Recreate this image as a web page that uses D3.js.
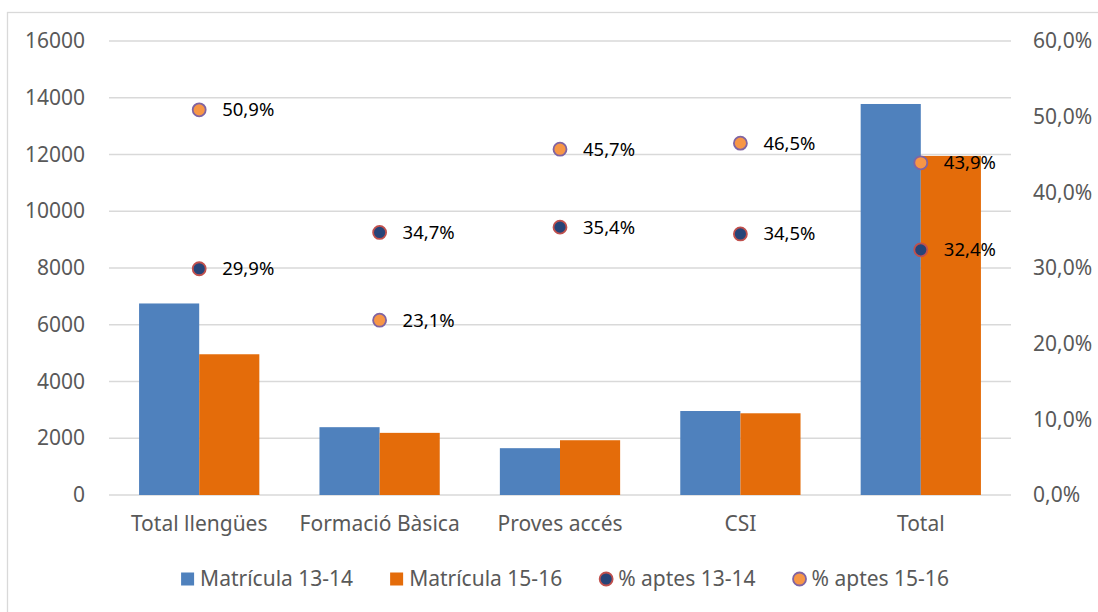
<!DOCTYPE html>
<html lang="ca">
    <head>
        <meta charset="utf-8">
        <title>Matrícula i % aptes</title>
        <script src="https://d3js.org/d3.v7.min.js"></script>
        <style type="text/css">
            body { margin: 0; background: #fff; }
            text { font-family: "Noto Sans", sans-serif; fill: #595959; }
            .grid line { stroke: #d9d9d9; stroke-width: 1.3px; }
            .axis path, .axis line { display: none; }
            .axis text { font-size: 21px; fill: #595959; }
            .lbl { font-size: 18.5px; fill: #000; }
            .legend text { font-size: 21px; }
        </style>
    </head>
    <body>
        <script type="text/javascript">

            const w = 1098;
            const h = 612;

            const categories = ["Total llengües", "Formació Bàsica", "Proves accés", "CSI", "Total"];
            const matricula1314 = [6750, 2390, 1650, 2960, 13780];
            const matricula1516 = [4960, 2190, 1930, 2880, 11950];
            const aptes1314 = [29.9, 34.7, 35.4, 34.5, 32.4];
            const aptes1516 = [50.9, 23.1, 45.7, 46.5, 43.9];
            const leftTicks = [0, 2000, 4000, 6000, 8000, 10000, 12000, 14000, 16000];
            const rightTicks = [0, 10, 20, 30, 40, 50, 60];

            const barColors = ["#4f81bd", "#e46c0a"];
            const dotFill = ["#264478", "#f79646"];
            const dotStroke = ["#c0504d", "#8064a2"];

            const plot = {left: 109, right: 1011, top: 41, bottom: 495};

            const svg = d3.select("body").append("svg").attr("width", w).attr("height", h);

            // chart border
            svg.append("rect")
                .attr("x", 7.5).attr("y", 12.5)
                .attr("width", 1100).attr("height", 620)
                .attr("fill", "none").attr("stroke", "#d9d9d9").attr("stroke-width", 1.3);

            const xScale = d3.scaleBand().domain(categories).range([plot.left, plot.right]);
            const xInner = d3.scaleBand().domain([0, 1]).range([0, xScale.bandwidth()]).paddingOuter(0.5);
            const yLeft = d3.scaleLinear().domain([0, 16000]).range([plot.bottom, plot.top]);
            const yRight = d3.scaleLinear().domain([0, 60]).range([plot.bottom, plot.top]);

            svg.append("g").attr("class", "grid")
                .selectAll("line").data(leftTicks).enter().append("line")
                .attr("x1", plot.left).attr("x2", plot.right)
                .attr("y1", d => yLeft(d)).attr("y2", d => yLeft(d));

            svg.append("g").attr("class", "axis")
                .attr("transform", "translate(" + (plot.left - 24) + ",0)")
                .call(d3.axisLeft(yLeft).tickValues(leftTicks).tickSize(0).tickPadding(0).tickFormat(d => d));

            svg.append("g").attr("class", "axis")
                .attr("transform", "translate(" + (plot.right + 22) + ",0)")
                .call(d3.axisRight(yRight).tickValues(rightTicks).tickSize(0).tickPadding(0)
                    .tickFormat(d => d.toFixed(1).replace(".", ",") + "%"));

            svg.append("g").attr("class", "axis")
                .attr("transform", "translate(0," + (plot.bottom + 36) + ")")
                .call(d3.axisBottom(xScale).tickSize(0).tickPadding(0))
                .selectAll("text").attr("dy", 0);

            // bars
            [matricula1314, matricula1516].forEach((series, s) => {
                svg.append("g").selectAll("rect").data(series).enter().append("rect")
                    .attr("x", (d, i) => xScale(categories[i]) + xInner(s))
                    .attr("width", xInner.bandwidth())
                    .attr("y", d => yLeft(d))
                    .attr("height", d => yLeft(0) - yLeft(d))
                    .attr("fill", barColors[s]);
            });

            // percentage points
            [aptes1314, aptes1516].forEach((series, s) => {
                const g = svg.append("g");
                g.selectAll("circle").data(series).enter().append("circle")
                    .attr("cx", (d, i) => xScale(categories[i]) + xScale.bandwidth() / 2)
                    .attr("cy", d => yRight(d))
                    .attr("r", 6.5)
                    .attr("fill", dotFill[s])
                    .attr("stroke", dotStroke[s])
                    .attr("stroke-width", 1.8);
                g.selectAll("text").data(series).enter().append("text")
                    .attr("class", "lbl")
                    .attr("x", (d, i) => xScale(categories[i]) + xScale.bandwidth() / 2 + 23)
                    .attr("y", d => yRight(d))
                    .attr("dy", "0.35em")
                    .text(d => d.toFixed(1).replace(".", ",") + "%");
            });

            // legend
            const legendItems = [
                {name: "Matrícula 13-14", type: "rect", fill: barColors[0]},
                {name: "Matrícula 15-16", type: "rect", fill: barColors[1]},
                {name: "% aptes 13-14", type: "circle", fill: dotFill[0], stroke: dotStroke[0]},
                {name: "% aptes 15-16", type: "circle", fill: dotFill[1], stroke: dotStroke[1]}
            ];
            const legend = svg.append("g").attr("class", "legend");
            const ly = 579;
            let lx = 0;
            legendItems.forEach(item => {
                const g = legend.append("g").attr("transform", "translate(" + lx + ",0)");
                if (item.type === "rect") {
                    g.append("rect").attr("x", 0).attr("y", ly - 6.5).attr("width", 13).attr("height", 13).attr("fill", item.fill);
                } else {
                    g.append("circle").attr("cx", 7).attr("cy", ly).attr("r", 6.5)
                        .attr("fill", item.fill).attr("stroke", item.stroke).attr("stroke-width", 1.8);
                }
                const t = g.append("text").attr("x", 19).attr("y", ly).attr("dy", "0.35em").text(item.name);
                lx += 19 + t.node().getComputedTextLength() + 37;
            });
            lx -= 37;
            legend.attr("transform", "translate(" + (565 - lx / 2) + ",0)");
        </script>
    </body>
</html>
